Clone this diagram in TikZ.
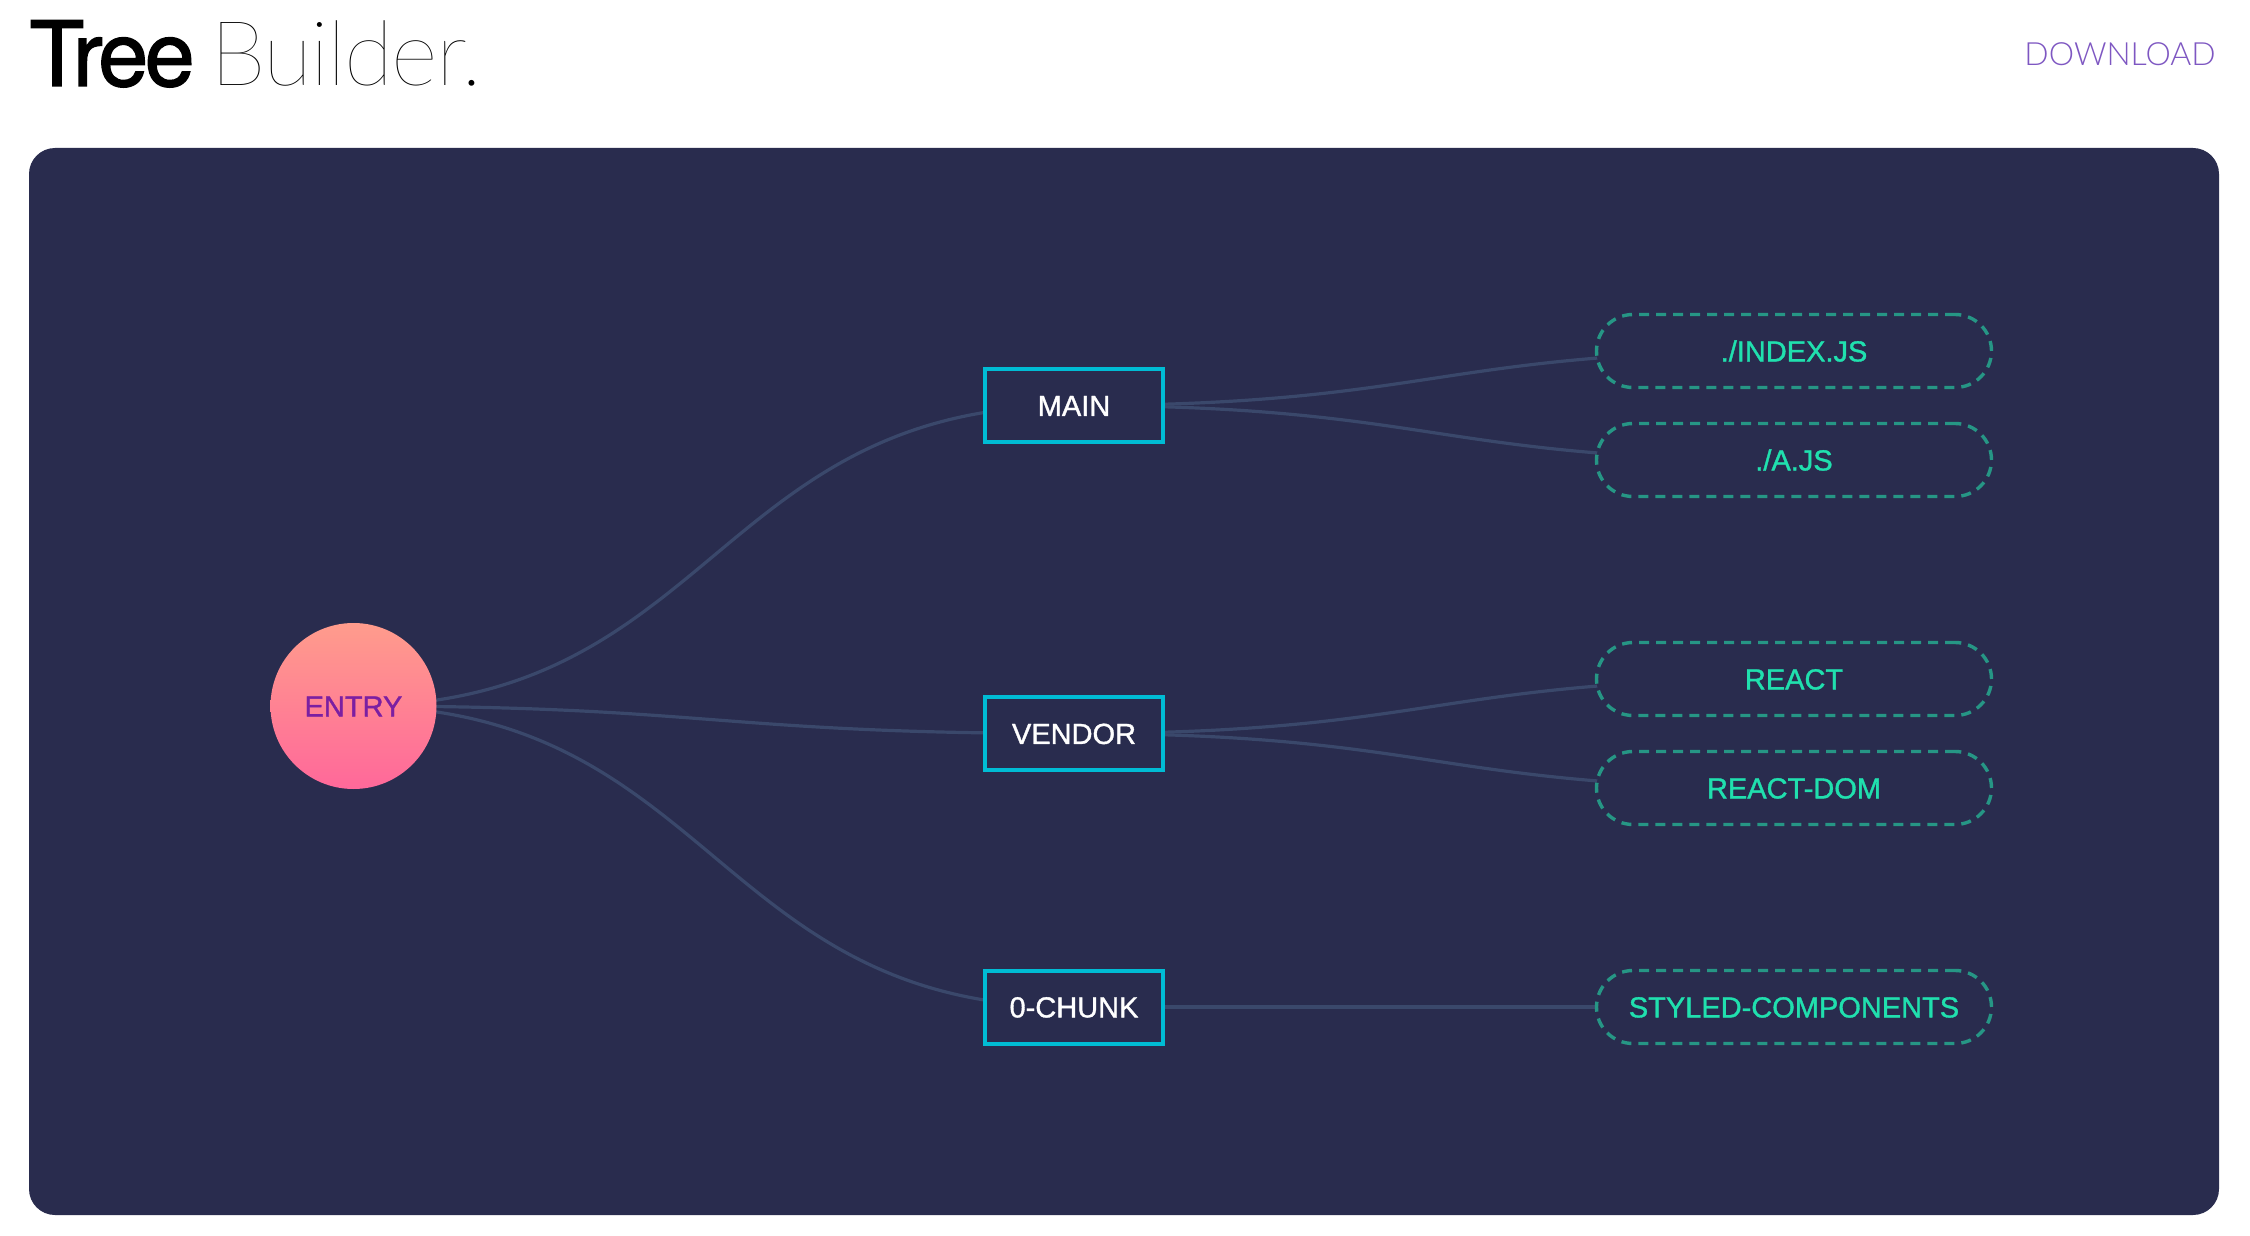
\documentclass[tikz,border=0pt]{standalone}
\usepackage{fontspec}
\usetikzlibrary{calc}
\setmainfont{Liberation Sans}
\newfontfamily\nodefont{Liberation Sans}[FakeBold=1.2]
\newfontfamily\headfont{TeX Gyre Heros}[LetterSpace=-4,FakeBold=1.5]
\IfFontExistsTF{Lato Thin}{\newfontfamily\thinfont{Lato Thin}[LetterSpace=-2]}{%
  \IfFontExistsTF{Lato Hairline}{\newfontfamily\thinfont{Lato Hairline}[LetterSpace=-2]}{%
    \IfFontExistsTF{Lato Light}{\newfontfamily\thinfont{Lato Light}[LetterSpace=-2]}{\newfontfamily\thinfont{Lato}[LetterSpace=-2]}}}
\IfFontExistsTF{Lato Light}{\newfontfamily\lightfont{Lato Light}}{\newfontfamily\lightfont{Lato}}
\definecolor{panel}{RGB}{41,44,78}
\definecolor{edgec}{RGB}{58,72,107}
\definecolor{boxc}{RGB}{0,188,212}
\definecolor{pillc}{RGB}{38,150,133}
\definecolor{pilltext}{RGB}{32,224,174}
\definecolor{entrytop}{RGB}{255,156,140}
\definecolor{entrybot}{RGB}{255,104,154}
\definecolor{entrytext}{RGB}{123,31,162}
\definecolor{dl}{RGB}{126,87,194}
\pgfdeclarelayer{panellayer}
\pgfdeclarelayer{edgelayer}
\pgfsetlayers{panellayer,edgelayer,main}
\newcommand\treelink[2]{%
  \path ($(#1.center)!0.5!(#2.center)$) coordinate (lk);
  \draw[edge] (#1.center) .. controls (lk |- #1.center) and (lk |- #2.center) .. (#2.center);}
\begin{document}
\begin{tikzpicture}[x=0.5pt,y=-0.5pt,
  edge/.style={draw=edgec,line width=1.6pt},
  nodetext/.style={font=\nodefont\fontsize{14.5pt}{14.5pt}\selectfont,text height=10.4pt,text depth=0pt},
  chunkbox/.style={nodetext,rectangle,draw=boxc,line width=2pt,fill=panel,
    minimum width=89pt,minimum height=36.5pt,inner sep=0pt,text=white},
  pill/.style={nodetext,rectangle,rounded corners=18.25pt,draw=pillc,line width=1.7pt,
    dash pattern=on 5pt off 3.5pt,fill=panel,minimum width=197.5pt,minimum height=36.5pt,
    inner sep=0pt,text=pilltext},
  entrynode/.style={nodetext,circle,minimum size=83pt,inner sep=0pt,
    top color=entrytop,bottom color=entrybot,draw=none,text=entrytext}
]
\useasboundingbox (0,0) rectangle (2250,1236);
\begin{pgfonlayer}{panellayer}
\fill[white] (0,0) rectangle (2250,1236);
\fill[panel,rounded corners=13pt] (29,148) rectangle (2219,1215);
\end{pgfonlayer}

\node[anchor=base west,inner sep=0pt,font=\fontsize{45pt}{45pt}\selectfont] (title) at (29,86)
  {{\headfont Tree}\hspace{8pt}{\thinfont Builder.}};
\node[anchor=base east,inner sep=0pt,text=dl,font=\lightfont\fontsize{16pt}{16pt}\selectfont] (download) at (2216,66) {DOWNLOAD};

\node[entrynode] (entry) at (353.5,706) {ENTRY};
\node[chunkbox] (main) at (1074,405.5) {MAIN};
\node[chunkbox] (vendor) at (1074,733.5) {VENDOR};
\node[chunkbox] (chunk) at (1074,1007) {0-CHUNK};
\node[pill] (index) at (1794,351) {./INDEX.JS};
\node[pill] (ajs) at (1794,460) {./A.JS};
\node[pill] (react) at (1794,679) {REACT};
\node[pill] (reactdom) at (1794,788) {REACT-DOM};
\node[pill] (styled) at (1794,1007) {STYLED-COMPONENTS};

\begin{pgfonlayer}{edgelayer}
\treelink{entry}{main}
\treelink{entry}{vendor}
\treelink{entry}{chunk}
\treelink{main}{index}
\treelink{main}{ajs}
\treelink{vendor}{react}
\treelink{vendor}{reactdom}
\draw[edge] (chunk.center) -- (styled.center);
\end{pgfonlayer}
\end{tikzpicture}
\end{document}
